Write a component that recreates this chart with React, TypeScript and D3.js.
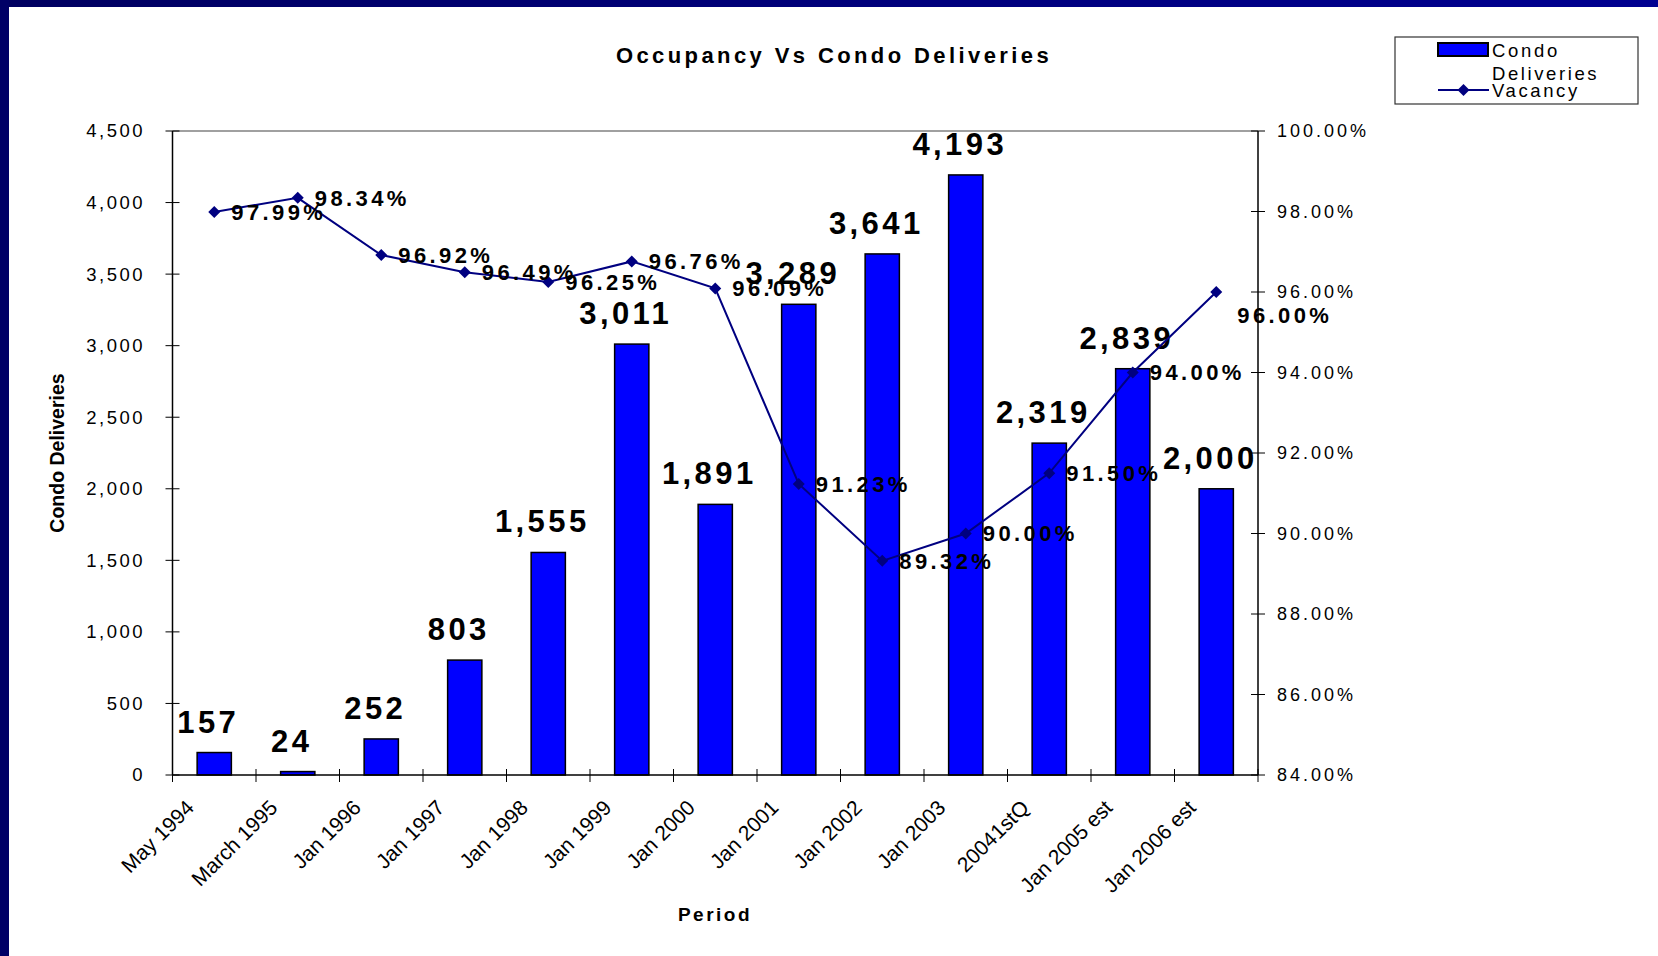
import React from "react";
import * as d3 from "d3";

const periods = [
  "May 1994", "March 1995", "Jan 1996", "Jan 1997", "Jan 1998", "Jan 1999",
  "Jan 2000", "Jan 2001", "Jan 2002", "Jan 2003", "20041stQ", "Jan 2005 est", "Jan 2006 est",
];
const deliveries = [157, 24, 252, 803, 1555, 3011, 1891, 3289, 3641, 4193, 2319, 2839, 2000];
const vacancy = [97.99, 98.34, 96.92, 96.49, 96.25, 96.76, 96.09, 91.23, 89.32, 90.0, 91.5, 94.0, 96.0];
const leftTicks = [0, 500, 1000, 1500, 2000, 2500, 3000, 3500, 4000, 4500];
const rightTicks = [84, 86, 88, 90, 92, 94, 96, 98, 100];

const W = 1658;
const H = 956;
const M = { left: 172.5, right: 1258, top: 131, bottom: 775 };
const FONT = "'Liberation Sans', Arial, sans-serif";

export default function App() {
  const x = d3
    .scaleBand<string>()
    .domain(periods)
    .range([M.left, M.right])
    .paddingInner(0.59)
    .paddingOuter(0.295);
  const step = x.step();
  const cx = (p: string) => (x(p) as number) + x.bandwidth() / 2;
  const yL = d3.scaleLinear().domain([0, 4500]).range([M.bottom, M.top]);
  const yR = d3.scaleLinear().domain([84, 100]).range([M.bottom, M.top]);
  const fmtN = d3.format(",");
  const fmtP = (v: number) => v.toFixed(2) + "%";

  const line = d3
    .line<number>()
    .x((_, i) => cx(periods[i]))
    .y((d) => yR(d));

  const diamond = (px: number, py: number, r = 6) =>
    `M${px},${py - r}L${px + r},${py}L${px},${py + r}L${px - r},${py}Z`;

  const boundaries = d3.range(periods.length + 1).map((i) => M.left + i * step);
  const last = vacancy.length - 1;

  return (
    <svg
      width={W}
      height={H}
      style={{ position: "absolute", left: 0, top: 0, background: "#fff" }}
      fontFamily={FONT}
    >
      <defs>
        <linearGradient id="topband" x1="0" x2="1" y1="0" y2="0">
          <stop offset="0" stopColor="#000060" />
          <stop offset="0.5" stopColor="#00007a" />
          <stop offset="1" stopColor="#000090" />
        </linearGradient>
      </defs>
      <rect x={0} y={0} width={W} height={H} fill="#fff" />
      <rect x={0} y={0} width={W} height={7} fill="url(#topband)" />
      <rect x={0} y={0} width={9} height={H} fill="#000066" />

      {/* Title */}
      <text x={834} y={63} textAnchor="middle" fontSize={22} fontWeight="bold" letterSpacing={3.4}>
        Occupancy Vs Condo Deliveries
      </text>

      {/* Plot frame top */}
      <line x1={M.left} x2={M.right} y1={M.top} y2={M.top} stroke="#808080" strokeWidth={1.5} />

      {/* Bars */}
      {periods.map((p, i) => (
        <rect
          key={p}
          x={x(p)}
          y={yL(deliveries[i])}
          width={x.bandwidth()}
          height={M.bottom - yL(deliveries[i])}
          fill="#0000ff"
          stroke="#000"
          strokeWidth={1.5}
        />
      ))}

      {/* Axes lines */}
      <line x1={M.left} x2={M.left} y1={M.top} y2={M.bottom} stroke="#000" strokeWidth={1.5} />
      <line x1={M.right} x2={M.right} y1={M.top} y2={M.bottom} stroke="#000" strokeWidth={1.5} />
      <line x1={M.left} x2={M.right} y1={M.bottom} y2={M.bottom} stroke="#000" strokeWidth={1.5} />

      {/* Left ticks */}
      {leftTicks.map((t) => (
        <g key={"l" + t}>
          <line x1={M.left - 7} x2={M.left + 7} y1={yL(t)} y2={yL(t)} stroke="#000" strokeWidth={1} />
          <text x={145} y={yL(t)} dy="0.35em" textAnchor="end" fontSize={18.5} letterSpacing={2.5}>
            {fmtN(t)}
          </text>
        </g>
      ))}

      {/* Right ticks */}
      {rightTicks.map((t) => (
        <g key={"r" + t}>
          <line x1={M.right - 7} x2={M.right + 7} y1={yR(t)} y2={yR(t)} stroke="#000" strokeWidth={1} />
          <text x={1277} y={yR(t)} dy="0.35em" textAnchor="start" fontSize={18} letterSpacing={3}>
            {t.toFixed(2) + "%"}
          </text>
        </g>
      ))}

      {/* X ticks */}
      {boundaries.map((bx, i) => (
        <line key={"x" + i} x1={bx} x2={bx} y1={M.bottom - 6} y2={M.bottom + 7} stroke="#000" strokeWidth={1} />
      ))}

      {/* X labels */}
      {periods.map((p) => {
        const ax = cx(p) - 19;
        const ay = M.bottom + 34;
        return (
          <text
            key={"xl" + p}
            x={ax}
            y={ay}
            textAnchor="end"
            fontSize={21}
            transform={`rotate(-45 ${ax} ${ay})`}
          >
            {p}
          </text>
        );
      })}

      {/* Axis titles */}
      <text
        x={0}
        y={0}
        transform={`translate(64 453) rotate(-90)`}
        textAnchor="middle"
        fontSize={19.5}
        fontWeight="bold"
      >
        Condo Deliveries
      </text>
      <text x={715} y={921} textAnchor="middle" fontSize={19} fontWeight="bold" letterSpacing={2.5}>
        Period
      </text>

      {/* Bar labels */}
      {periods.map((p, i) => (
        <text
          key={"bl" + p}
          x={cx(p) - 6}
          y={yL(deliveries[i]) - 20}
          textAnchor="middle"
          fontSize={31}
          fontWeight="bold"
          letterSpacing={3.4}
        >
          {fmtN(deliveries[i])}
        </text>
      ))}

      {/* Vacancy line */}
      <path d={line(vacancy) || ""} fill="none" stroke="#000080" strokeWidth={2} />
      {vacancy.map((v, i) => (
        <path key={"m" + i} d={diamond(cx(periods[i]), yR(v))} fill="#000080" />
      ))}
      {vacancy.map((v, i) => (
        <text
          key={"vl" + i}
          x={cx(periods[i]) + (i === last ? 21 : 17)}
          y={yR(v) + (i === last ? 23 : 0)}
          dy="0.36em"
          fontSize={22}
          fontWeight="bold"
          letterSpacing={3.4}
        >
          {fmtP(v)}
        </text>
      ))}

      {/* Legend */}
      <rect x={1395} y={37} width={243} height={67} fill="#fff" stroke="#333" strokeWidth={1.2} />
      <rect x={1438} y={43} width={50} height={13} fill="#0000ff" stroke="#000" strokeWidth={2} />
      <text x={1492} y={57} fontSize={18.5} letterSpacing={2.7}>Condo</text>
      <text x={1492} y={80} fontSize={18.5} letterSpacing={2.6}>Deliveries</text>
      <line x1={1438} x2={1489} y1={90} y2={90} stroke="#000080" strokeWidth={2} />
      <path d={diamond(1463.5, 90, 6)} fill="#000080" />
      <text x={1492} y={97} fontSize={18.5} letterSpacing={2.6}>Vacancy</text>
    </svg>
  );
}
